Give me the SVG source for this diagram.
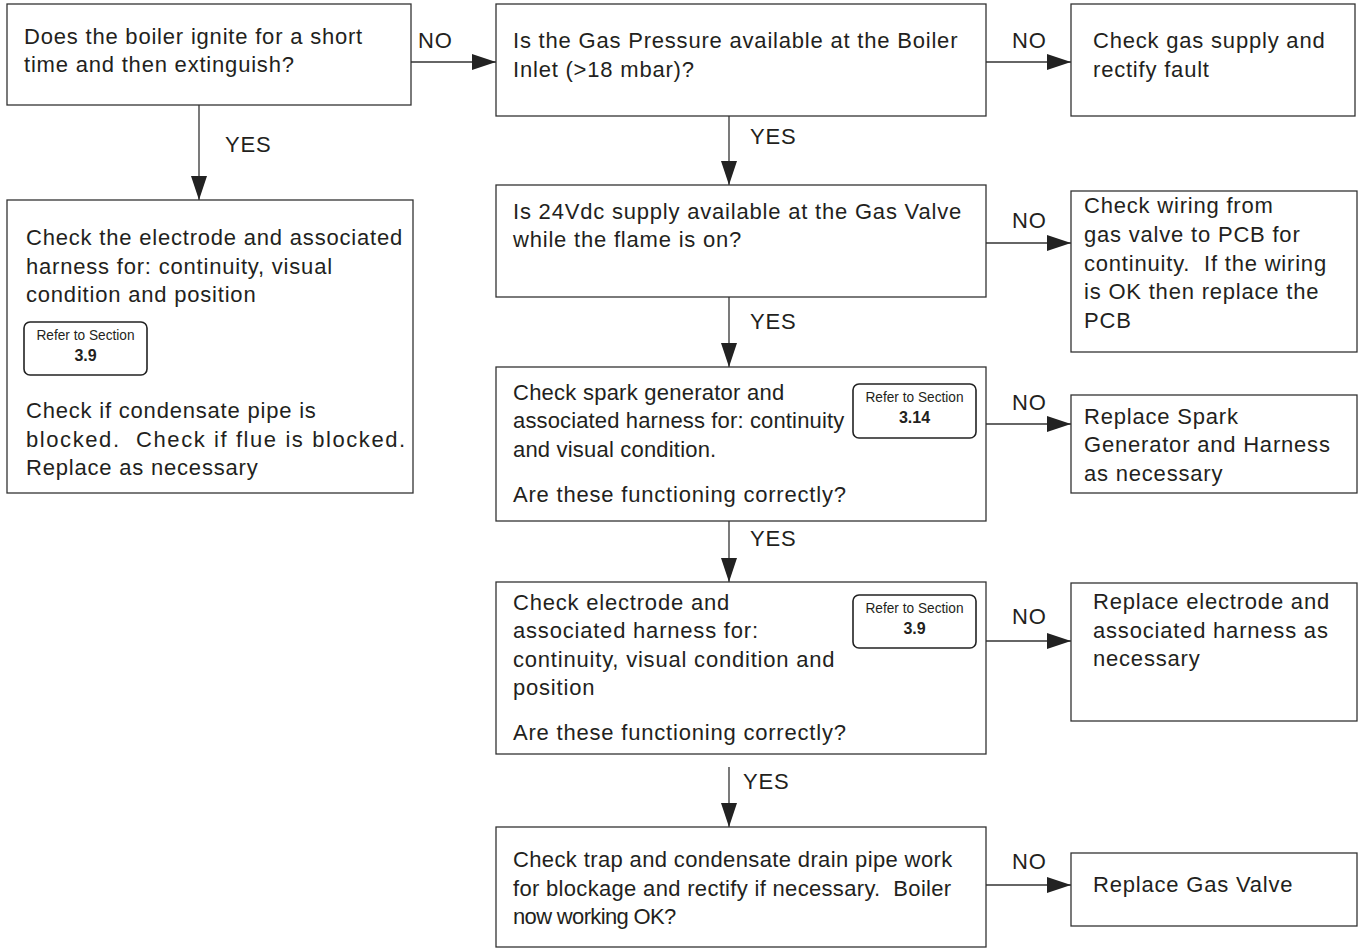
<svg xmlns="http://www.w3.org/2000/svg" width="1362" height="949" viewBox="0 0 1362 949">
<style>
.box{fill:#fff;stroke:#333;stroke-width:1.3}
.t,.lbl{font-family:"Liberation Sans",Arial,sans-serif;font-size:22px;letter-spacing:0.8px;fill:#231f20;white-space:pre}
.badge{fill:#fff;stroke:#222;stroke-width:1.6}
.bt{font-family:"Liberation Sans Narrow","Liberation Sans",Arial,sans-serif;font-size:15px;fill:#231f20;text-anchor:middle}
.bn{font-family:"Liberation Sans",Arial,sans-serif;font-size:16px;font-weight:bold;fill:#231f20;text-anchor:middle}
.c{stroke:#333;stroke-width:1.3;fill:none;marker-end:url(#ah)}
</style>
<defs>
<marker id="ah" markerUnits="userSpaceOnUse" markerWidth="24" markerHeight="16" refX="24" refY="8" orient="auto">
<path d="M0,0 L24,8 L0,16 Z" fill="#222"/>
</marker>
</defs>
<rect width="1362" height="949" fill="#fff"/>
<g id="connectors">
<path class="c" d="M411,62 H496"/>
<path class="c" d="M199,105 V200"/>
<path class="c" d="M986,62 H1071"/>
<path class="c" d="M729,116 V185"/>
<path class="c" d="M986,243 H1071"/>
<path class="c" d="M729,297 V367"/>
<path class="c" d="M986,424 H1071"/>
<path class="c" d="M729,521 V582"/>
<path class="c" d="M986,641 H1071"/>
<path class="c" d="M729,767 V827"/>
<path class="c" d="M986,885 H1071"/>
<text class="lbl" x="418" y="48">NO</text>
<text class="lbl" x="225" y="152">YES</text>
<text class="lbl" x="1012" y="48">NO</text>
<text class="lbl" x="750" y="144">YES</text>
<text class="lbl" x="1012" y="228">NO</text>
<text class="lbl" x="750" y="329">YES</text>
<text class="lbl" x="1012" y="410">NO</text>
<text class="lbl" x="750" y="546">YES</text>
<text class="lbl" x="1012" y="624">NO</text>
<text class="lbl" x="743" y="789">YES</text>
<text class="lbl" x="1012" y="869">NO</text>
</g>
<g id="n1">
<rect class="box" x="7" y="4" width="404" height="101"/>
<text class="t" x="24" y="44">Does the boiler ignite for a short</text>
<text class="t" x="24" y="72">time and then extinguish?</text>
</g>
<g id="n2">
<rect class="box" x="7" y="200" width="406" height="293"/>
<text class="t" x="26" y="245">Check the electrode and associated</text>
<text class="t" x="26" y="274">harness for: continuity, visual</text>
<text class="t" x="26" y="302">condition and position</text>
<rect class="badge" x="24" y="322" width="123" height="53" rx="6"/>
<text class="bt" x="85.5" y="340" textLength="98" lengthAdjust="spacingAndGlyphs">Refer to Section</text>
<text class="bn" x="85.5" y="361">3.9</text>
<text class="t" x="26" y="418">Check if condensate pipe is</text>
<text class="t" x="26" y="447" textLength="380">blocked.  Check if flue is blocked.</text>
<text class="t" x="26" y="475">Replace as necessary</text>
</g>
<g id="n3">
<rect class="box" x="496" y="4" width="490" height="112"/>
<text class="t" x="513" y="48">Is the Gas Pressure available at the Boiler</text>
<text class="t" x="513" y="77">Inlet (&gt;18 mbar)?</text>
</g>
<g id="n4">
<rect class="box" x="1071" y="4" width="284" height="112"/>
<text class="t" x="1093" y="48">Check gas supply and</text>
<text class="t" x="1093" y="77">rectify fault</text>
</g>
<g id="n5">
<rect class="box" x="496" y="185" width="490" height="112"/>
<text class="t" x="513" y="219">Is 24Vdc supply available at the Gas Valve</text>
<text class="t" x="513" y="247">while the flame is on?</text>
</g>
<g id="n6">
<rect class="box" x="1071" y="191" width="286" height="161"/>
<text class="t" x="1084" y="213">Check wiring from</text>
<text class="t" x="1084" y="242">gas valve to PCB for</text>
<text class="t" x="1084" y="271">continuity.  If the wiring</text>
<text class="t" x="1084" y="299">is OK then replace the</text>
<text class="t" x="1084" y="328">PCB</text>
</g>
<g id="n7">
<rect class="box" x="496" y="367" width="490" height="154"/>
<text class="t" x="513" y="400" textLength="272">Check spark generator and</text>
<text class="t" x="513" y="428" textLength="332">associated harness for: continuity</text>
<text class="t" x="513" y="457" textLength="204">and visual condition.</text>
<text class="t" x="513" y="502">Are these functioning correctly?</text>
<rect class="badge" x="853" y="384" width="123" height="54" rx="6"/>
<text class="bt" x="914.5" y="402" textLength="98" lengthAdjust="spacingAndGlyphs">Refer to Section</text>
<text class="bn" x="914.5" y="423">3.14</text>
</g>
<g id="n8">
<rect class="box" x="1071" y="395" width="286" height="98"/>
<text class="t" x="1084" y="424">Replace Spark</text>
<text class="t" x="1084" y="452">Generator and Harness</text>
<text class="t" x="1084" y="481">as necessary</text>
</g>
<g id="n9">
<rect class="box" x="496" y="582" width="490" height="172"/>
<text class="t" x="513" y="610">Check electrode and</text>
<text class="t" x="513" y="638">associated harness for:</text>
<text class="t" x="513" y="667">continuity, visual condition and</text>
<text class="t" x="513" y="695">position</text>
<text class="t" x="513" y="740">Are these functioning correctly?</text>
<rect class="badge" x="853" y="595" width="123" height="53" rx="6"/>
<text class="bt" x="914.5" y="613" textLength="98" lengthAdjust="spacingAndGlyphs">Refer to Section</text>
<text class="bn" x="914.5" y="634">3.9</text>
</g>
<g id="n10">
<rect class="box" x="1071" y="583" width="286" height="138"/>
<text class="t" x="1093" y="609">Replace electrode and</text>
<text class="t" x="1093" y="638">associated harness as</text>
<text class="t" x="1093" y="666">necessary</text>
</g>
<g id="n11">
<rect class="box" x="496" y="827" width="490" height="120"/>
<text class="t" x="513" y="867" textLength="440">Check trap and condensate drain pipe work</text>
<text class="t" x="513" y="896" textLength="439">for blockage and rectify if necessary.  Boiler</text>
<text class="t" x="513" y="924" textLength="164">now working OK?</text>
</g>
<g id="n12">
<rect class="box" x="1071" y="853" width="286" height="73"/>
<text class="t" x="1093" y="892">Replace Gas Valve</text>
</g>
</svg>
